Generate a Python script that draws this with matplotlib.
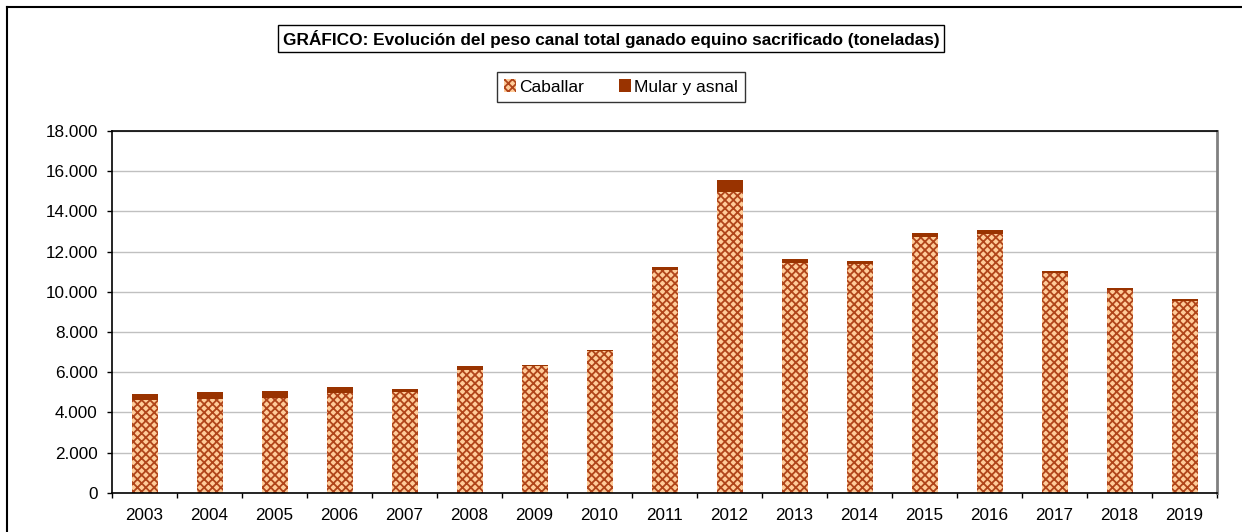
import numpy as np
import matplotlib.pyplot as plt
from matplotlib.patches import Patch
from matplotlib.lines import Line2D

plt.rcParams['font.family'] = ['Liberation Sans', 'DejaVu Sans']
plt.rcParams['hatch.linewidth'] = 1.3

# Datos (toneladas)
anios = ['2003', '2004', '2005', '2006', '2007', '2008', '2009', '2010', '2011',
         '2012', '2013', '2014', '2015', '2016', '2017', '2018', '2019']
caballar = [4600, 4640, 4700, 4960, 5020, 6100, 6300, 7050, 11100,
            14970, 11450, 11360, 12740, 12890, 10950, 10100, 9560]
mular_asnal = [300, 360, 360, 300, 140, 190, 50, 40, 150,
               590, 200, 150, 180, 165, 70, 70, 70]

col_cab = '#FFCC99'
col_hatch = '#B0451A'
col_mul = '#993300'

W, H = 1242, 532
fig = plt.figure(figsize=(W / 100, H / 100), dpi=100)
ax = fig.add_axes([112 / W, 1 - 492.7 / H, 1105 / W, (492.7 - 131) / H])

x = np.arange(len(anios))
ax.bar(x, caballar, width=0.4, color=col_cab, edgecolor=col_hatch, hatch='xxxx', linewidth=0)
ax.bar(x, mular_asnal, width=0.4, bottom=caballar, color=col_mul, linewidth=0)

ax.set_xlim(-0.5, len(anios) - 0.5)
ax.set_ylim(0, 18000)
ax.set_yticks(np.arange(0, 18001, 2000))
ax.set_yticklabels([f'{v:,}'.replace(',', '.') for v in range(0, 18001, 2000)], fontsize=12.3)
ax.set_xticks(x)
ax.set_xticklabels(anios, fontsize=12.3)
ax.set_xticks(np.arange(-0.5, len(anios)), minor=True)
ax.tick_params(axis='x', which='major', length=0, pad=11)
ax.tick_params(axis='x', which='minor', length=3.5, width=1)
ax.tick_params(axis='y', length=3.8, width=1, pad=6.5)

ax.yaxis.grid(True, color='#C0C0C0', lw=1)
ax.set_axisbelow(True)
for s in ['left', 'bottom', 'top']:
    ax.spines[s].set_color('black')
    ax.spines[s].set_linewidth(1.2)
ax.spines['right'].set_color('#808080')
ax.spines['right'].set_linewidth(2)

# Titulo
fig.text(611 / W, 1 - 38.5 / H,
         'GRÁFICO: Evolución del peso canal total ganado equino sacrificado (toneladas)',
         ha='center', va='center', fontsize=12.4, fontweight='bold',
         bbox=dict(boxstyle='square,pad=0.25', fc='white', ec='black', lw=1))

# Leyenda
handles = [Patch(facecolor=col_cab, edgecolor=col_hatch, hatch='xxxx', lw=0, label='Caballar'),
           Patch(facecolor=col_mul, lw=0, label='Mular y asnal')]
leg = fig.legend(handles=handles, loc='center', bbox_to_anchor=(621 / W, 1 - 87 / H),
                 ncol=2, fontsize=12.5, frameon=True, fancybox=False, edgecolor='black',
                 handlelength=0.7, handleheight=0.7, handletextpad=0.2, columnspacing=2.0,
                 borderpad=0.4, borderaxespad=0)
leg.get_frame().set_linewidth(1)

# Marco exterior
fig.add_artist(Line2D([6.5 / W, 6.5 / W], [0, 1 - 7 / H], color='black', lw=1.5))
fig.add_artist(Line2D([6.5 / W, 1], [1 - 7 / H, 1 - 7 / H], color='black', lw=1.5))

fig.savefig('out.png', dpi=100)
